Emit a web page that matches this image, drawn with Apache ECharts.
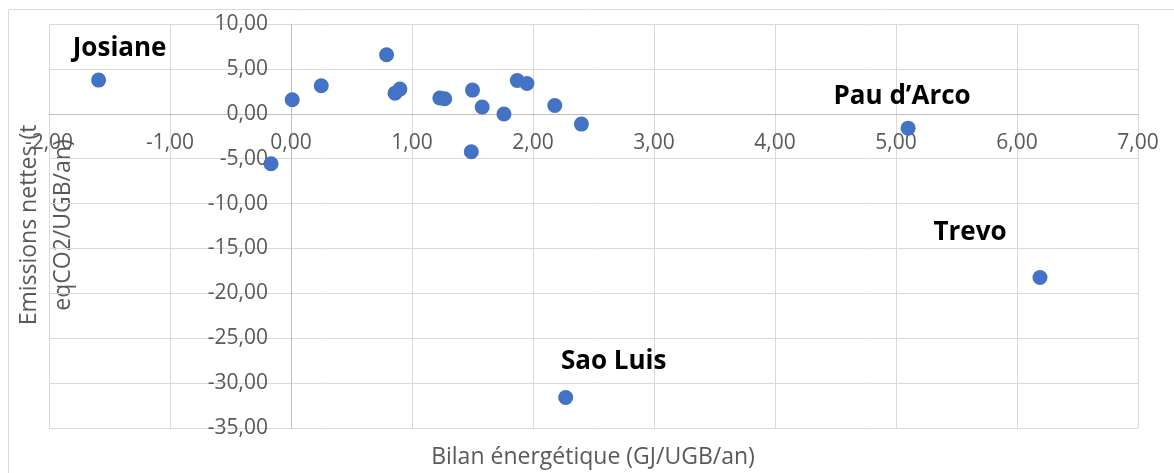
<!DOCTYPE html>
<html>
<head>
<meta charset="utf-8">
<script src="https://cdn.jsdelivr.net/npm/echarts@6/dist/echarts.min.js"></script>
<style>
html, body { margin: 0; padding: 0; background: #fff; }
#chart { width: 1174px; height: 473px; }
</style>
</head>
<body>
<div id="chart"></div>
<script>
// valeurs
var bilan = [-1.59, -0.165, 0.01, 0.25, 0.79, 0.86, 0.90, 1.23, 1.27, 1.49, 1.50, 1.58, 1.76, 1.87, 1.95, 2.18, 2.27, 2.40, 5.10, 6.19];
var emissions = [3.75, -5.57, 1.56, 3.12, 6.57, 2.30, 2.75, 1.75, 1.67, -4.23, 2.64, 0.75, -0.03, 3.71, 3.38, 0.92, -31.6, -1.15, -1.60, -18.23];
var noms = ['Josiane', '', '', '', '', '', '', '', '', '', '', '', '', '', '', '', 'Sao Luis', '', 'Pau d\u2019Arco', 'Trevo'];

var xTitre = 'Bilan énergétique (GJ/UGB/an)';
var yTitre = ['Emissions nettes (t', 'eqCO2/UGB/an)'];

// décalage des étiquettes par rapport au point
var decalages = {
  'Josiane': [21, -32],
  'Sao Luis': [48, -36],
  'Pau d\u2019Arco': [-6, -32],
  'Trevo': [-70, -45]
};

function virgule(v) {
  return v.toFixed(2).replace('.', ',');
}

var data = [];
bilan.forEach(function (x, i) {
  var item = { value: [x, emissions[i]], name: noms[i] };
  if (noms[i]) {
    item.label = {
      show: true,
      position: 'inside',
      offset: decalages[noms[i]],
      formatter: '{b}'
    };
  }
  data.push(item);
});

var myChart = echarts.init(document.getElementById('chart'));

// les axes se croisent en (0,0) : on décale axes + étiquettes
var gLeft = 49, gRight = 36, gTop = 24, gBottom = 45;
var plotW = 1174 - gLeft - gRight, plotH = 473 - gTop - gBottom;
var xMin = -2, xMax = 7, yMin = -35, yMax = 10;
var yOffset = -plotW * (0 - xMin) / (xMax - xMin);
var xOffset = -plotH * (0 - yMin) / (yMax - yMin);

myChart.setOption({
  animation: false,
  textStyle: { fontFamily: 'Open Sans' },
  grid: { left: gLeft, right: gRight, top: gTop, bottom: gBottom, outerBoundsMode: 'none' },
  xAxis: {
    type: 'value',
    min: xMin,
    max: xMax,
    interval: 1,
    offset: xOffset,
    axisLine: { show: true, onZero: false, lineStyle: { color: '#bfbfbf', width: 1 } },
    axisTick: { show: false },
    axisLabel: {
      color: '#595959',
      fontSize: 21,
      margin: 19,
      formatter: virgule
    },
    splitLine: { show: true, lineStyle: { color: '#d9d9d9', width: 1 } }
  },
  yAxis: {
    type: 'value',
    min: yMin,
    max: yMax,
    interval: 5,
    offset: yOffset,
    axisLine: { show: true, onZero: false, lineStyle: { color: '#bfbfbf', width: 1 } },
    axisTick: { show: false },
    axisLabel: {
      color: '#595959',
      fontSize: 21,
      margin: 23,
      formatter: virgule
    },
    splitLine: { show: true, lineStyle: { color: '#d9d9d9', width: 1 } }
  },
  series: [{
    type: 'scatter',
    symbolSize: 15,
    itemStyle: { color: '#4472c4', opacity: 1 },
    label: {
      show: false,
      color: '#000000',
      fontWeight: 'bold',
      fontSize: 26,
      fontFamily: 'Open Sans'
    },
    data: data
  }],
  graphic: [
    {
      type: 'rect',
      z: -1,
      silent: true,
      shape: { x: 8.5, y: 9.5, width: 1300, height: 600 },
      style: { fill: 'none', stroke: '#d9d9d9', lineWidth: 1 }
    },
    {
      type: 'text',
      x: 593,
      y: 457,
      style: {
        text: xTitre,
        fill: '#595959',
        font: '23px "Open Sans"',
        textAlign: 'center',
        textVerticalAlign: 'middle'
      }
    },
    {
      type: 'text',
      x: 46,
      y: 225,
      rotation: Math.PI / 2,
      style: {
        text: yTitre.join('\n'),
        fill: '#595959',
        font: '23px "Open Sans"',
        lineHeight: 34,
        textAlign: 'center',
        textVerticalAlign: 'middle'
      }
    }
  ]
});
</script>
</body>
</html>
